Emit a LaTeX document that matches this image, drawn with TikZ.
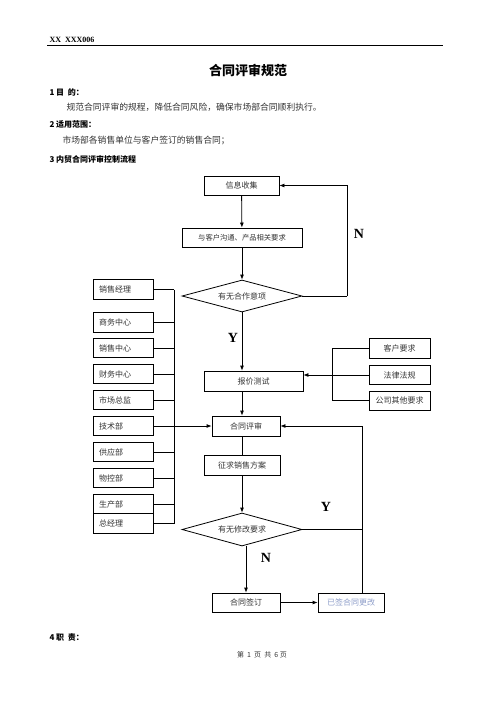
\documentclass[tikz,border=0pt]{standalone}
\usepackage{fontspec}
\setmainfont{Liberation Serif}
\newfontfamily\cjk{Noto Sans CJK SC}
\usepackage{xcolor}
\usetikzlibrary{shapes.geometric, arrows.meta, positioning, calc}
\definecolor{flowtext}{HTML}{333333}
\definecolor{flowblue}{HTML}{8C9CC8}
\tikzset{
    flowbox/.style={draw, line width=0.8pt, text=flowtext, inner sep=0pt, font=\cjk\fontsize{8}{9}\selectfont},
    deptbox/.style={draw, line width=0.8pt, text=flowtext, inner xsep=6pt, inner ysep=0pt, text width=48pt, align=left, minimum height=19.5pt, font=\cjk\fontsize{8}{9}\selectfont},
    decision/.style={diamond, draw, line width=0.8pt, aspect=3.75, inner sep=0pt, minimum width=120pt, minimum height=32pt, text=flowtext, font=\cjk\fontsize{8}{9}\selectfont},
    arr/.style={line width=0.8pt, -{Latex[length=5pt, width=4pt]}},
    link/.style={line width=0.8pt},
    yn/.style={font=\bfseries\fontsize{14}{16}\selectfont},
    heading/.style={anchor=west, font=\cjk\bfseries\fontsize{8}{10}\selectfont},
    bodytext/.style={anchor=west, text=flowtext, font=\cjk\fontsize{8.8}{10}\selectfont}
}

\begin{document}
\begin{tikzpicture}[x=1pt, y=-1pt]
    \useasboundingbox (0,0) rectangle (496,702);

    % page header
    \node[anchor=base west, font=\bfseries\fontsize{8}{9}\selectfont] (hdr) at (46,42.5) {XX\ \ XXX006};
    \draw[line width=0.9pt] (47,45.5) -- (443,45.5);
    \node[font=\cjk\bfseries\fontsize{13}{15}\selectfont] (title) at (248,70) {合同评审规范};

    \node[heading] (sec1) at (46,92) {1 目\ \ 的：};
    \node[bodytext] (aim) at (63,107) {规范合同评审的规程，降低合同风险，确保市场部合同顺利执行。};
    \node[heading] (sec2) at (46,124) {2 适用范围：};
    \node[bodytext] (scope) at (59,140) {市场部各销售单位与客户签订的销售合同；};
    \node[heading] (sec3) at (46,159) {3 内贸合同评审控制流程};

    % main flow
    \node[flowbox, minimum width=75pt, minimum height=19pt] (info) at (241.5,185.5) {信息收集};
    \node[flowbox, minimum width=120pt, minimum height=19pt, font=\cjk\fontsize{7.3}{9}\selectfont] (talk) at (242,237.5) {与客户沟通、产品相关要求};
    \node[decision] (intent) at (242,296) {有无合作意项};
    \node[flowbox, minimum width=99pt, minimum height=20pt] (quote) at (253.5,381) {报价测试};
    \node[flowbox, minimum width=68pt, minimum height=20pt] (review) at (246,426) {合同评审};
    \node[flowbox, minimum width=76pt, minimum height=20pt] (plan) at (242,465) {征求销售方案};
    \node[decision, minimum height=33pt] (modify) at (242,529.5) {有无修改要求};
    \node[flowbox, minimum width=68pt, minimum height=19pt] (sign) at (246,602.5) {合同签订};
    \node[flowbox, minimum width=66pt, minimum height=19pt, text=flowblue] (changed) at (351,602.5) {已签合同更改};

    % departments
    \node[deptbox] (mgr) at (123,289.5) {销售经理};
    \node[deptbox] (biz) at (123,322.5) {商务中心};
    \node[deptbox] (salesc) at (123,348) {销售中心};
    \node[deptbox] (fin) at (123,374) {财务中心};
    \node[deptbox] (mkt) at (123,400) {市场总监};
    \node[deptbox] (tech) at (123,426) {技术部};
    \node[deptbox] (supply) at (123,452) {供应部};
    \node[deptbox] (matctl) at (123,478) {物控部};
    \node[deptbox] (prod) at (123,504) {生产部};
    \node[deptbox] (gm) at (123,523.5) {总经理};

    % requirements
    \node[flowbox, minimum width=61pt, minimum height=20pt] (cust) at (399.5,348) {客户要求};
    \node[flowbox, minimum width=61pt, minimum height=19pt] (law) at (399.5,375) {法律法规};
    \node[flowbox, minimum width=61pt, minimum height=19pt] (other) at (399.5,400.5) {公司其他要求};

    % connectors
    \coordinate (busTop) at (174,289.5);
    \coordinate (busEnd) at (174,523.5);
    \coordinate (loopN) at (347,296);
    \coordinate (bracket) at (332,348);
    \coordinate (loopY) at (362,593);

    \draw[arr] (info) -- (talk);
    \draw[arr] (talk) -- (intent);
    \draw[link] (intent.east) -- (loopN);
    \draw[arr] (loopN) |- (info.east);
    \draw[arr] (intent.south) -- (intent.south |- quote.north);
    \draw[arr] (intent.south |- quote.south) -- (intent.south |- review.north);
    \draw[link] (intent.south |- review.south) -- (plan.north -| intent.south);
    \draw[arr] (plan.south -| intent.south) -- (modify.north);
    \draw[arr] (modify.south -| sign.north) -- (sign.north);
    \draw[arr] (sign) -- (changed);
    \draw[link] (modify.east) -- (modify.east -| loopY);
    \draw[arr] (loopY) |- (review.east);

    \draw[link] (cust.west) -- (bracket) |- (other.west);
    \draw[arr] (law.west) -- (law.west -| quote.east);

    \foreach \d in {mgr, biz, salesc, fin, mkt, supply, matctl, prod, gm}
        \draw[link] (\d.east) -- (\d.east -| busTop);
    \draw[link] (busTop) -- (busEnd);
    \draw[arr] (tech.east) -- (review.west);

    % branch labels
    \node[yn] (n1) at (359,234) {N};
    \node[yn] (y1) at (233,338) {Y};
    \node[yn] (y2) at (326,507) {Y};
    \node[yn] (n2) at (266,558) {N};

    % footer
    \node[heading] (sec4) at (46,637) {4 职\ \ 责：};
    \node[text=flowtext, font=\cjk\fontsize{7}{8}\selectfont] (pageno) at (262,655) {第\ \ 1\ \ 页\ \ 共\ \ 6\ 页};
\end{tikzpicture}
\end{document}
